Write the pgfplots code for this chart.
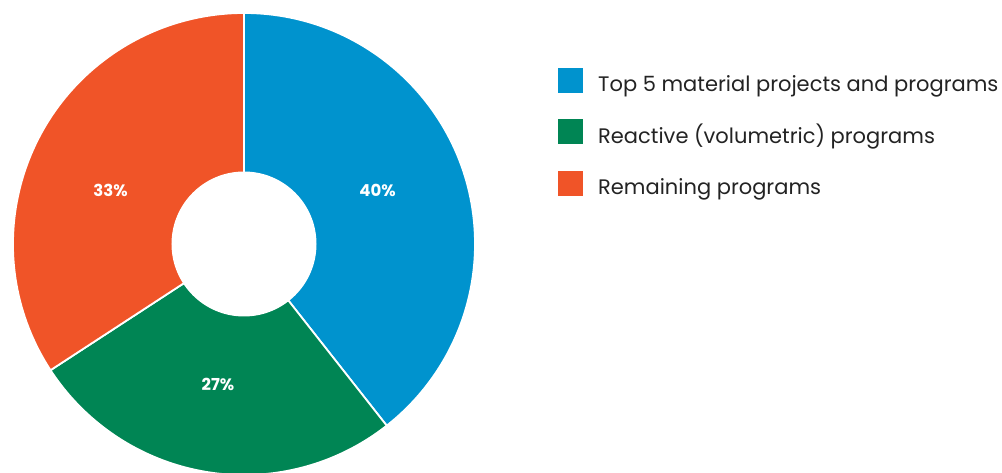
\documentclass[border=0pt]{standalone}
\usepackage{pgfplots}
\pgfplotsset{compat=1.18}
\usepackage{pgfplotstable}
\usepackage{fontspec}
\setmainfont{Poppins}
\usetikzlibrary{calc}
\definecolor{cblue}{RGB}{0,147,206}
\definecolor{cgreen}{RGB}{0,133,84}
\definecolor{corange}{RGB}{240,84,40}
% slice share (%), shown label, colour, label angle, label radius (px), legend text
\pgfplotstableread[col sep=comma]{
value,shown,col,langle,lrad,name
39.4,40,cblue,22,144,Top 5 material projects and programs
26.4,27,cgreen,-100.5,143,Reactive (volumetric) programs
34.2,33,corange,158,144,Remaining programs
}\piedata
\begin{document}
\begin{tikzpicture}
\begin{axis}[scale only axis, width=1002bp, height=473bp, anchor=south west, at={(0,0)},
  xmin=0, xmax=1002, ymin=0, ymax=473, hide axis, clip=false]
\pgfplotsextra{
  \def\cx{244}\def\cy{229}
  \def\R{231bp}\def\r{72.5bp}
  \xdef\start{90}
  \pgfplotstablegetrowsof{\piedata}
  \pgfmathtruncatemacro\nrows{\pgfplotsretval-1}
  \foreach \i in {0,...,\nrows}{
    \pgfplotstablegetelem{\i}{value}\of{\piedata}\let\v\pgfplotsretval
    \pgfplotstablegetelem{\i}{shown}\of{\piedata}\let\s\pgfplotsretval
    \pgfplotstablegetelem{\i}{col}\of{\piedata}\let\c\pgfplotsretval
    \pgfplotstablegetelem{\i}{langle}\of{\piedata}\let\la\pgfplotsretval
    \pgfplotstablegetelem{\i}{lrad}\of{\piedata}\let\lr\pgfplotsretval
    \pgfplotstablegetelem{\i}{name}\of{\piedata}\let\nm\pgfplotsretval
    \pgfmathsetmacro\e{\start-3.6*\v}
    \fill[\c, draw=white, line width=1.8bp, line join=round]
      (axis cs:\cx,\cy) -- ++(\start:\R) arc[start angle=\start, end angle=\e, radius=\R] -- cycle;
    \node[text=white, font=\fontsize{16.5bp}{19bp}\selectfont\bfseries, anchor=center]
      at ($(axis cs:\cx,\cy)+(\la:\lr bp)$) {\s\%};
    \pgfmathsetmacro\ly{392.5-51.5*\i}
    \fill[\c] (axis cs:558,\ly) ++(0,-12.5bp) rectangle ++(25bp,25bp);
    \node[anchor=base west, inner sep=0pt, text={rgb,255:red,35;green,35;blue,35},
      font=\fontsize{21bp}{25bp}\selectfont] at ($(axis cs:598,\ly)+(0,-11.5bp)$) {\nm};
    \xdef\start{\e}
  }
  \fill[white] (axis cs:\cx,\cy) circle[radius=\r];
}
\end{axis}
\pgfresetboundingbox
\path[use as bounding box] (0,0) rectangle (1002bp,473bp);
\end{tikzpicture}
\end{document}
